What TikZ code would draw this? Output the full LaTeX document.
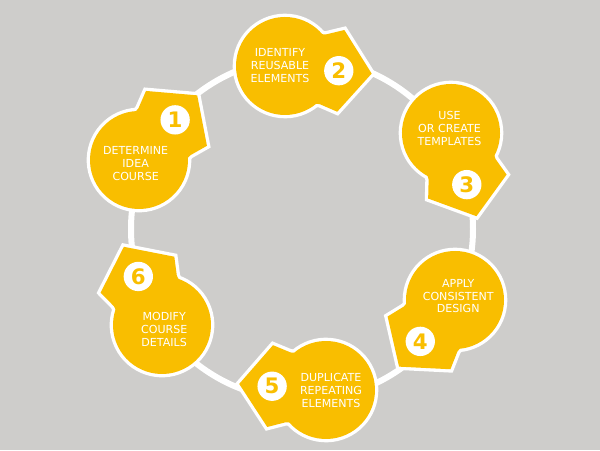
\documentclass[tikz,border=0pt]{standalone}
\usepackage{fontspec}
\setmainfont{DejaVu Sans}
\usepackage{tikz}
\definecolor{stepyellow}{RGB}{249,190,0}
\definecolor{bggray}{RGB}{206,205,203}
\tikzset{
  steptext/.style={align=center,text=white,inner sep=0pt,font=\fontsize{8.3}{9.6}\selectfont},
  numbadge/.style={circle,fill=white,text=stepyellow,inner sep=0pt,minimum size=22pt,font=\bfseries\fontsize{16}{16}\selectfont}
}
\newcommand{\drawStepArrow}{% local frame: along the cycle
  (0,34) -- (38,35) -- (56,41) -- (87,0) -- (56,-41) -- (38,-35) -- (0,-34) -- cycle
}
\newcommand{\drawStep}[5]{% center: x,y; direction; number; text
  \begin{scope}[shift={(#1,#2)}]
    \begin{scope}[rotate=#3]
      \draw[white,line width=5pt] (0,0) circle (49);
      \draw[white,line width=5pt,line join=miter] \drawStepArrow;
      \fill[stepyellow] (0,0) circle (49);
      \fill[stepyellow] \drawStepArrow;
      \node[numbadge] (num#4) at (54,0) {#4};
    \end{scope}
    \node[steptext] (txt#4) at (#3+180:5) {#5};
  \end{scope}
}

\begin{document}
\begin{tikzpicture}[x=0.75pt,y=0.75pt]
% Background
\fill[bggray] (0,0) rectangle (600,450);
\useasboundingbox (0,0) rectangle (600,450);

% Ring
\coordinate (hub) at (302,221);
\draw[white,line width=4.5pt] (hub) circle (171);

% Step 1
\drawStep{139}{290}{48}{1}{DETERMINE\\IDEA\\COURSE}
% Step 2
\drawStep{285}{384}{-5}{2}{IDENTIFY\\REUSABLE\\ELEMENTS}
% Step 3
\drawStep{451}{317}{-73}{3}{USE\\OR CREATE\\TEMPLATES}
% Step 4
\drawStep{455}{150}{-130}{4}{APPLY\\CONSISTENT\\DESIGN}
% Step 5
\drawStep{326}{60}{176}{5}{DUPLICATE\\REPEATING\\ELEMENTS}
% Step 6
\drawStep{162}{125}{116}{6}{MODIFY\\COURSE\\DETAILS}
\end{tikzpicture}
\end{document}
